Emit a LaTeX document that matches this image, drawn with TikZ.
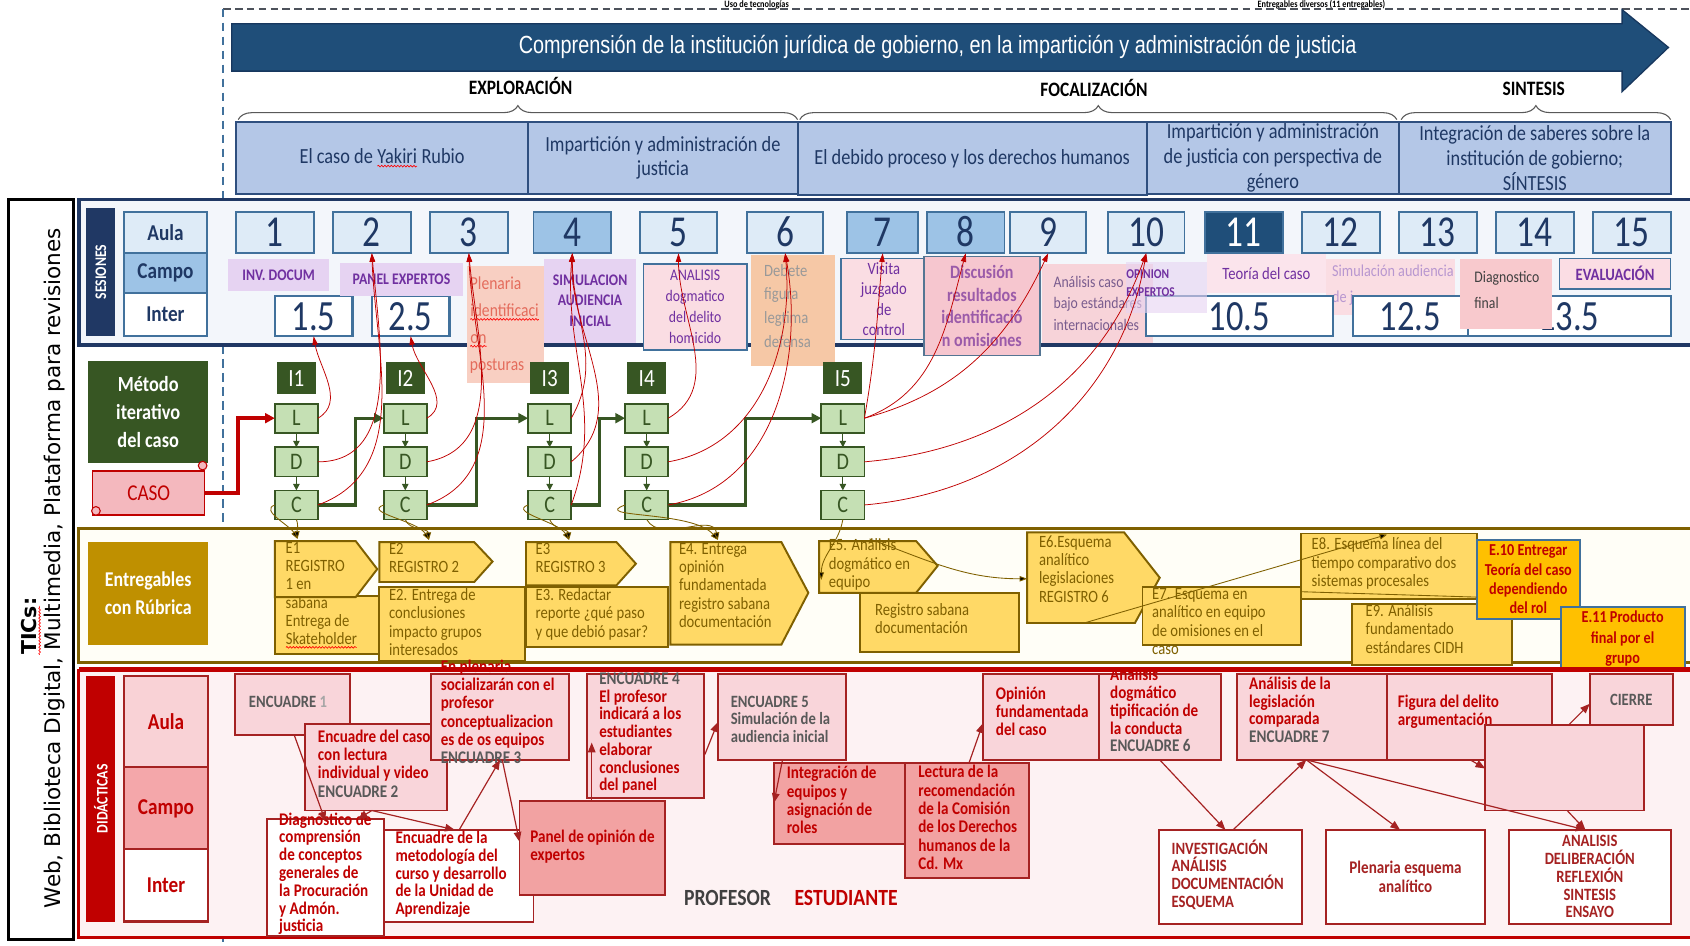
\documentclass[tikz,border=0pt]{standalone}
\usepackage{fontspec}
\setmainfont{Carlito}[FakeStretch=0.85]
\newfontfamily\bnrfont{Liberation Sans}[FakeStretch=0.8]
\newfontfamily\ticsfont{DejaVu Sans}
\newfontfamily\numfont{Carlito}[FakeStretch=0.8]
\usetikzlibrary{arrows.meta,decorations.pathreplacing,decorations.pathmorphing,calc}
\newcommand\spellw[1]{\tikz[baseline=(spw.base)]{\node[inner sep=0pt,outer sep=0pt,minimum width=0pt,minimum height=0pt,draw=none,fill=none,anchor=base,rotate=0] (spw) at (0,0) {#1};\draw[red,line width=0.6pt,decorate,decoration={snake,amplitude=0.8pt,segment length=3pt}] ([yshift=-2.5pt]spw.base west) -- ([yshift=-2.5pt]spw.base east);}}
\definecolor{navy}{HTML}{1F3864}
\definecolor{navyd}{HTML}{203864}
\definecolor{bnrblue}{HTML}{1F4E79}
\definecolor{bnrdark}{HTML}{17375E}
\definecolor{topicfill}{HTML}{B4C7E7}
\definecolor{topicbd}{HTML}{2F4F7F}
\definecolor{boxbd}{HTML}{41719C}
\definecolor{lb}{HTML}{DEEBF7}
\definecolor{mb}{HTML}{9DC3E6}
\definecolor{sesbg}{HTML}{F3F6FB}
\definecolor{purp}{HTML}{7030A0}
\definecolor{lav}{HTML}{E6D3F2}
\definecolor{peach}{HTML}{F8CFC2}
\definecolor{pinkl}{HTML}{FADDE3}
\definecolor{pinkm}{HTML}{F6C6CF}
\definecolor{orng}{HTML}{F6C8A6}
\definecolor{dgreen}{HTML}{375623}
\definecolor{lgreen}{HTML}{C5E0B4}
\definecolor{gold}{HTML}{BF9000}
\definecolor{egold}{HTML}{FFD966}
\definecolor{olive}{HTML}{7F6000}
\definecolor{eorange}{HTML}{FFC000}
\definecolor{dred}{HTML}{C00000}
\definecolor{dbord}{HTML}{A52222}
\definecolor{dpink}{HTML}{F9D5DA}
\definecolor{dpinkb}{HTML}{F2A2A2}
\definecolor{didbg}{HTML}{FDF2F3}
\definecolor{campop}{HTML}{F4A7AA}
\definecolor{aulap}{HTML}{F9D2D6}
\definecolor{tgray}{HTML}{595959}
\definecolor{plenred}{HTML}{E46C5C}
\definecolor{acpink}{HTML}{F7D3D9}
\definecolor{teopink}{HTML}{FBE4EC}
\definecolor{diapink}{HTML}{F8C9CD}
\definecolor{evapink}{HTML}{FBDDE4}
\definecolor{casopink}{HTML}{F4B8BE}
\definecolor{entbg}{HTML}{FFFEF7}
\newcommand\fsz[2]{\fontsize{#1}{#2}\selectfont}
\newcommand\mybox[7]{\node[#1,anchor=north west,minimum width={#5pt-#3pt},minimum height={#6pt-#4pt}] (#2) at (#3,#4) {#7};}
\begin{document}
\begin{tikzpicture}[x=1pt,y=-1pt,
  every node/.style={inner sep=0pt,outer sep=0pt},
  topic/.style={draw=topicbd,line width=2,fill=topicfill,text=navy,font=\fsz{20}{23},align=center},
  rowl/.style={draw=boxbd,line width=1.8,text=navy,font=\bfseries\fsz{21}{22}},
  num/.style={draw=boxbd,line width=1.8,text=navy,font=\numfont\fsz{41}{42},text height=26pt,text depth=0pt},
  inb/.style={draw=boxbd,line width=2,fill=white,text=navy,font=\numfont\fsz{40}{42},text height=26pt,text depth=0pt},
  lab/.style={text=purp,font=\bfseries\fsz{15}{19},align=center},
  txl/.style={anchor=north west,align=left},
  lbox/.style={fill=lgreen,draw=dgreen,line width=1.6,text=dgreen,font=\fsz{22}{22},minimum width=40pt,minimum height=27pt},
  ilab/.style={fill=dgreen,text=white,font=\fsz{23}{23},minimum width=36pt,minimum height=30pt},
  sa/.style={draw=dgreen,line width=1,-{Triangle[length=6pt,width=6pt]}},
  gc/.style={draw=dgreen,line width=3,-{Triangle[length=9pt,width=9pt]}},
  rc/.style={draw=dred,line width=0.7,-{Triangle[length=8pt,width=5pt]}},
  oc/.style={draw=olive,line width=0.8,-{Triangle[length=7pt,width=5pt]}},
  eshape/.style={fill=egold,draw=olive,line width=1.8},
  etx/.style={anchor=north west,align=left,text=olive,font=\fsz{16}{17}},
  dbox/.style={fill=dpink,draw=dbord,line width=1.8},
  dtx/.style={anchor=north west,align=left,text=dred,font=\bfseries\fsz{16.5}{17}},
  da/.style={draw=dbord,line width=1.1,-{Triangle[length=9pt,width=7pt]}},
  brc/.style={decorate,decoration={brace,amplitude=13pt},draw=tgray,line width=1}]
\useasboundingbox (0,0) rectangle (1568,877);
\fill[white] (0,0) rectangle (1568,877);
% ---------- top ----------
\node[anchor=north,font=\bfseries\fsz{9}{10}] (usotec) at (702,0.5) {Uso de tecnologías};
\node[anchor=north,font=\bfseries\fsz{9}{10}] (entdiv) at (1226,0.5) {Entregables diversos (11 entregables)};
\draw[draw=tgray!80!navy,line width=2,dash pattern=on 7pt off 4pt] (207,8) -- (1568,8);
\draw[draw=boxbd,line width=1.2,dash pattern=on 8pt off 5pt] (207,8) -- (207,877);
\filldraw[fill=bnrblue,draw=bnrdark,line width=1.2] (215,22) -- (1505,22) -- (1505,9) -- (1548,44) -- (1505,85) -- (1505,66) -- (215,66) -- cycle;
\node[text=white,font=\bnrfont\fsz{23}{26}] (banner) at (870,44) {Comprensión de la institución jurídica de gobierno, en la impartición y administración de justicia};
\node[font=\bfseries\fsz{19}{20}] (explo) at (483,80) {EXPLORACIÓN};
\node[font=\bfseries\fsz{19}{20}] (foca) at (1015,82) {FOCALIZACIÓN};
\node[font=\bfseries\fsz{19}{20}] (sint) at (1423,82) {SINTESIS};
\draw[brc] (221,111) -- (740,111);
\draw[brc] (742,111) -- (1296,111);
\draw[brc] (1300,111) -- (1550,111);
\mybox{topic}{t1}{219}{113}{490}{180}{}
\node[text=navy,font=\fsz{20}{23}] (t1txt) at (t1.center) {El caso de \spellw{Yakiri} Rubio};
\mybox{topic}{t2}{490}{113}{740}{180}{Impartición y administración de\\justicia}
\mybox{topic}{t3}{740}{113}{1064}{181}{El debido proceso y los derechos humanos}
\mybox{topic}{t4}{1064}{113}{1298}{180}{Impartición y administración\\de justicia con perspectiva de\\género}
\mybox{topic}{t5}{1298}{113}{1550}{180}{Integración de saberes sobre la\\institución de gobierno;\\SÍNTESIS}
% ---------- sessions ----------
\draw[line width=3.5,draw=navyd,fill=sesbg] (73,185) rectangle (1580,320);
\mybox{fill=navyd}{sesl}{80}{193}{107}{312}{}
\node[rotate=90,text=white,font=\bfseries\fsz{15}{16}] (sest) at (sesl.center) {SESIONES};
\mybox{rowl,fill=lb}{raula}{115}{197}{192}{235}{Aula}
\mybox{rowl,fill=mb}{rcampo}{115}{235}{192}{272}{Campo}
\mybox{rowl,fill=white}{rinter}{115}{272}{192}{312}{Inter}
\foreach \n/\xa/\w/\fc/\tc in {1/219/72/lb/navy,2/309/72/lb/navy,3/399/72/lb/navy,4/495/72/mb/navy,5/594/71/lb/navy,6/693/71/lb/navy,7/786/66/mb/navy,8/860/72/mb/navy,9/937/71/lb/navy,10/1028/71/lb/navy,11/1118/72/bnrblue/white,12/1208/72/lb/navy,13/1298/72/lb/navy,14/1388/72/lb/navy,15/1478/72/lb/navy}
  {\node[num,fill=\fc,text=\tc,anchor=north west,minimum width=\w pt,minimum height=38pt] (s\n) at (\xa,197) {\n};}
\mybox{inb}{i15}{255}{275}{327}{312}{1.5}
\mybox{inb}{i25}{345}{275}{417}{312}{2.5}
% campo labels
\mybox{lab,fill=lav}{invdoc}{212}{240}{305}{270}{INV. DOCUM}
\mybox{lab,fill=lav}{panelexp}{315}{244}{430}{275}{PANEL EXPERTOS}
\mybox{fill=peach}{plenbox}{433}{247}{505}{355}{}
\node[txl,text=plenred,font=\fsz{17}{25}] (plentxt) at (436,257) {Plenaria\\\spellw{identificaci}\\\spellw{on}\\posturas};
\mybox{lab,fill=lav}{simbox}{505}{240}{590}{318}{SIMULACION\\AUDIENCIA\\INICIAL}
\mybox{lab,fill=pinkl,draw=boxbd,line width=1.5,font=\fsz{15}{19.5}}{anabox}{597}{245}{693}{325}{ANALISIS\\dogmatico\\del delito\\homicido}
\mybox{fill=orng}{debbox}{697}{237}{775}{340}{}
\node[txl,text=black!40,font=\fsz{16}{22}] (debtxt) at (709,245) {Debete\\figura\\legtima\\defensa};
\mybox{lab,fill=pinkl,draw=boxbd,line width=1.5,font=\fsz{16}{19}}{visbox}{780}{240}{860}{315}{Visita\\juzgado\\de\\control}
\mybox{lab,fill=pinkm,draw=boxbd!70!gray,line width=1.5,text=purp!70!pink,font=\bfseries\fsz{17.5}{21}}{disbox}{857}{238}{965}{330}{Discusión\\resultados\\identificació\\n omisiones}
\mybox{fill=acpink,text=purp!45!gray,font=\fsz{15}{20},align=left}{acbox}{967}{245}{1070}{318}{Análisis caso\\bajo estándares\\internacionales}
\mybox{fill=pinkl}{simabox}{1230}{240}{1350}{292}{}
\node[txl,text=purp!50!white,font=\fsz{15.5}{24}] (simatxt) at (1236,246) {Simulación audiencia\\de j};
\mybox{inb}{i105}{1063}{275}{1237}{312}{10.5}
\mybox{inb}{i125}{1255}{275}{1362}{312}{12.5}
\mybox{inb}{i135}{1362}{275}{1550}{312}{}
\node[anchor=west,text=navy,font=\numfont\fsz{40}{42},text height=26pt,text depth=0pt] (i135t) at (1427,293.5) {13.5};
\mybox{fill=lav,fill opacity=0.6}{opbox}{1045}{243}{1120}{290}{}
\node[txl,text=purp,font=\bfseries\fsz{12.5}{17}] (optxt) at (1045,250) {OPINION\\EXPERTOS};
\mybox{fill=teopink,text=purp,font=\fsz{16}{18}}{teobox}{1120}{236}{1230}{272}{Teoría del caso}
\mybox{fill=diapink}{diabox}{1355}{240}{1440}{305}{}
\node[txl,text=black!75,font=\fsz{15}{24}] (diatxt) at (1368,252) {Diagnostico\\final};
\mybox{lab,fill=evapink,draw=boxbd,line width=1.5,font=\bfseries\fsz{16}{18}}{evabox}{1447}{240}{1550}{268}{EVALUACIÓN}
% ---------- method ----------
\mybox{fill=dgreen,text=white,font=\bfseries\fsz{20}{26},align=center}{metodo}{82}{335}{193}{430}{Método\\iterativo\\del caso}
\mybox{fill=casopink,draw=dred,line width=1.3,text=dred,font=\fsz{21}{22}}{caso}{86}{437}{190}{478}{CASO}
\draw[draw=dred,fill=casopink,line width=1] (89,474) circle (4);
\draw[draw=dred,fill=casopink,line width=1] (188,432) circle (4);
\foreach \k/\cx in {1/275,2/376,3/510,4/600,5/782}{
  \node[ilab] (I\k) at (\cx,351) {I\k};
  \node[lbox] (L\k) at (\cx,388) {L};
  \node[lbox] (D\k) at (\cx,428.5) {D};
  \node[lbox] (C\k) at (\cx,468.5) {C};
  \draw[sa] (L\k.south) -- (D\k.north);
  \draw[sa] (D\k.south) -- (C\k.north);
}
\draw[draw=dred,line width=3.5,-{Triangle[length=9pt,width=9pt]}] (caso.east) -- ++(31,0) |- (L1.west);
\draw[gc] (C1.east) -- ++(35,0) |- (L2.west);
\draw[gc] (C2.east) -- ++(46,0) |- (L3.west);
\draw[gc] (C3.east) -- ++(26,0) |- (L4.west);
\draw[gc] (C4.east) -- ++(72,0) |- (L5.west);
% red curves to sessions
\draw[rc] (L1.east) to[out=30,in=-80] (i15.south);
\draw[rc] (D1.east) to[out=0,in=-85] (s2.south);
\draw[rc] (C1.east) to[out=20,in=-88] (s2.south);
\draw[rc] (L2.east) to[out=30,in=-80] (i25.south);
\draw[rc] (D2.east) to[out=10,in=-85] (s3.south);
\draw[rc] (C2.east) to[out=20,in=-88] (s3.south);
\draw[rc] (L3.east) to[out=60,in=-90] (s4.south);
\draw[rc] (D3.east) to[out=40,in=-92] (s4.south);
\draw[rc] (C3.east) to[out=70,in=-95] (s4.south);
\draw[rc] (L4.east) to[out=30,in=-90] (s5.south);
\draw[rc] (D4.east) to[out=10,in=-85] (s6.south);
\draw[rc] (C4.east) to[out=10,in=-80] (s6.south);
\draw[rc] (L5.east) to[out=80,in=-95] (s7.south);
\draw[rc] (L5.east) to[out=20,in=-105] (s8.south);
\draw[rc] (L5.east) to[out=15,in=-115] (s9.south);
\draw[rc] (D5.east) to[out=5,in=-110] (s10.south);
\draw[rc] (C5.east) to[out=5,in=-100] (s10.south);
% ---------- entregables ----------
\draw[line width=3,draw=olive,fill=entbg] (73,490) rectangle (1580,615);
\mybox{fill=gold,text=white,font=\bfseries\fsz{19.5}{26},align=center}{entlab}{82}{503}{193}{598}{Entregables\\con Rúbrica}
\mybox{eshape}{e1b}{255}{553}{352}{607}{}
\filldraw[eshape] (255,502) -- (330,502) -- (350,528) -- (330,554) -- (255,554) -- cycle;
\node[etx] (e1t) at (265,503) {E1\\REGISTRO\\1 en\\sabana};
\node[etx] (e1bt) at (265,570) {Entrega de\\\spellw{Skateholder}};
\filldraw[eshape] (352,503) -- (440,503) -- (457,521) -- (440,540) -- (352,540) -- cycle;
\node[etx] (e2t) at (361,504) {E2\\REGISTRO 2};
\mybox{eshape}{e2b}{352}{545}{487}{613}{}
\node[etx] (e2bt) at (361,546) {E2. Entrega de\\conclusiones\\impacto grupos\\interesados};
\filldraw[eshape] (488,503) -- (572,503) -- (590,523) -- (572,543) -- (488,543) -- cycle;
\node[etx] (e3t) at (497,504) {E3\\REGISTRO 3};
\mybox{eshape}{e3b}{488}{545}{620}{600}{}
\node[etx] (e3bt) at (497,546) {E3. Redactar\\reporte ¿qué paso\\y que debió pasar?};
\filldraw[eshape] (622,503) -- (725,503) -- (750,550) -- (725,598) -- (622,598) -- cycle;
\node[etx] (e4t) at (630,504) {E4. Entrega\\opinión\\fundamentada\\registro sabana\\documentación};
\mybox{eshape}{e5b}{798}{550}{945}{605}{}
\node[etx] (e5bt) at (812,560) {Registro sabana\\documentación};
\filldraw[eshape] (760,502) -- (850,502) -- (870,525) -- (850,550) -- (760,550) -- cycle;
\node[etx] (e5t) at (769,500) {E5. Análisis\\dogmático en\\equipo};
\filldraw[eshape] (953,494) -- (1043,494) -- (1076,536) -- (1053,578) -- (953,578) -- cycle;
\node[etx] (e6t) at (964,497) {E6.Esquema\\analítico\\legislaciones\\REGISTRO 6};
\mybox{eshape}{e7b}{1060}{545}{1207}{598}{}
\node[etx] (e7t) at (1069,546) {E7. Esquema  en\\analítico en equipo\\de omisiones en el\\caso};
\mybox{eshape}{e8b}{1207}{495}{1370}{556}{}
\node[etx] (e8t) at (1217,499) {E8. Esquema línea del\\tiempo comparativo dos\\sistemas procesales};
\mybox{eshape}{e9b}{1254}{560}{1403}{617}{}
\node[etx] (e9t) at (1267,561) {E9. Análisis\\fundamentado\\estándares CIDH};
\mybox{fill=eorange,draw=boxbd,line width=2,text=dred,font=\bfseries\fsz{15.5}{18},align=center}{e10}{1370}{501}{1466}{574}{E.10 Entregar\\Teoría del caso\\dependiendo\\del rol}
\mybox{fill=eorange,draw=boxbd,line width=2,text=dred,font=\bfseries\fsz{15.5}{19},align=center}{e11}{1448}{563}{1563}{622}{E.11 Producto\\final por el\\grupo}
\coordinate (e1top) at (276,500);
\coordinate (e2top) at (398,501);
\coordinate (e3top) at (528,501);
\coordinate (e4top) at (666,501);
\coordinate (e5top) at (762,538);
\coordinate (e6in) at (953,537);
\coordinate (e6bot) at (1006,578);
\coordinate (e8in) at (1287,496);
\coordinate (e8out) at (1207,549);
\coordinate (e10in) at (1370,554);
\draw[oc] (C1.west) to[out=200,in=120] (e1top);
\draw[oc] (C1.south) to[out=-70,in=95] (e1top);
\draw[oc] (C2.west) to[out=200,in=120] (e2top);
\draw[oc] (C2.south) to[out=-70,in=95] (e2top);
\draw[oc] (C3.west) to[out=200,in=120] (e3top);
\draw[oc] (C3.south) to[out=-70,in=95] (e3top);
\draw[oc] (C4.west) to[out=200,in=130] (e4top);
\draw[oc] (C4.south) to[out=-60,in=100] (e4top);
\draw[oc] (C5.south) to[out=-100,in=90] (e5top);
\draw[oc] (e5t.north) to[out=-20,in=180] (e6in);
\draw[oc] (e6bot) -- (e8in);
\draw[draw=olive,line width=0.8] (e8out) -- (e10in);
% ---------- didacticas ----------
\draw[line width=3,draw=dred,fill=didbg] (73,622) rectangle (1580,870);
\mybox{fill=dred}{didl}{80}{627}{107}{855}{}
\node[rotate=90,text=white,font=\bfseries\fsz{15}{16}] (didt) at (didl.center) {DIDÁCTICAS};
\mybox{fill=aulap,draw=dbord,line width=2,text=dred,font=\bfseries\fsz{21}{22}}{daula}{115}{627}{193}{712}{Aula}
\mybox{fill=campop,draw=dbord,line width=2,text=dred,font=\bfseries\fsz{21}{22}}{dcampo}{115}{712}{193}{788}{Campo}
\mybox{fill=white,draw=dbord,line width=2,text=dred,font=\bfseries\fsz{21}{22}}{dinter}{115}{788}{193}{855}{Inter}
\mybox{dbox}{enc1}{218}{625}{325}{682}{}
\node[anchor=west,text=tgray,font=\bfseries\fsz{16}{17}] (enc1t) at (231,651) {ENCUADRE {\color{black!35}1}};
\mybox{dbox}{enc2}{283}{672}{415}{752}{}
\node[dtx] (enc2t) at (295,677) {Encuadre del caso\\con lectura\\individual y video\\{\color{tgray}ENCUADRE 2}};
\mybox{dbox}{enc3}{400}{625}{528}{705}{}
\node[dtx] (enc3t) at (409,612) {En plenaria\\socializarán con el\\profesor\\conceptualizacion\\es de os equipos\\{\color{tgray}ENCUADRE 3}};
\mybox{dbox}{enc4}{545}{625}{653}{740}{}
\node[dtx,font=\bfseries\fsz{16.5}{16.5}] (enc4t) at (556,624) {{\color{tgray}ENCUADRE 4}\\El profesor\\indicará a los\\estudiantes\\elaborar\\conclusiones\\del panel};
\mybox{dbox}{enc5}{666}{625}{785}{705}{}
\node[dtx,text=tgray,font=\bfseries\fsz{16}{16}] (enc5t) at (678,646) {ENCUADRE 5\\Simulación de la\\audiencia inicial};
\mybox{dbox,fill=dpinkb}{integ}{718}{708}{840}{783}{}
\node[dtx] (integt) at (730,711) {Integración de\\equipos y\\asignación de\\roles};
\mybox{dbox,fill=dpinkb}{lectura}{840}{708}{955}{815}{}
\node[dtx] (lecturat) at (852,710) {Lectura de la\\recomendación\\de la Comisión\\de los Derechos\\humanos de la\\Cd. Mx};
\mybox{dbox}{opinion}{912}{625}{1020}{705}{}
\node[dtx] (opiniont) at (924,637) {Opinión\\fundamentada\\del caso};
\mybox{dbox}{enc6}{1020}{625}{1133}{705}{}
\node[dtx,font=\bfseries\fsz{16.5}{16.5}] (enc6t) at (1030,620) {Análisis\\dogmático\\tipificación de\\la conducta\\{\color{tgray}ENCUADRE 6}};
\mybox{dbox}{legis}{1148}{625}{1287}{705}{}
\node[dtx,font=\bfseries\fsz{16.5}{16.5}] (legist) at (1159,628) {Análisis de la\\legislación\\comparada\\{\color{tgray}ENCUADRE 7}};
\mybox{dbox}{figura}{1287}{625}{1440}{705}{}
\node[dtx] (figurat) at (1297,645) {Figura del delito\\argumentación};
\mybox{dbox,text=tgray,font=\bfseries\fsz{16}{17}}{cierre}{1475}{625}{1552}{673}{CIERRE}
\mybox{dbox}{blank}{1378}{673}{1525}{752}{}
\mybox{dbox,fill=white}{diag}{248}{760}{356}{868}{}
\node[dtx,font=\bfseries\fsz{16.5}{16.5}] (diagt) at (259,754) {Diagnóstico de\\comprensión\\de conceptos\\generales de\\la Procuración\\y Admón.\\justicia};
\mybox{dbox,fill=white}{metod}{356}{770}{495}{855}{}
\node[dtx,font=\bfseries\fsz{16.5}{16.5}] (metodt) at (367,771) {Encuadre de la\\metodología del\\curso y desarrollo\\de la Unidad de\\Aprendizaje};
\mybox{dbox,fill=dpinkb}{panel}{482}{743}{617}{830}{}
\node[dtx] (panelt) at (492,770) {Panel de opinión de\\expertos};
\node[text=black!75,font=\bfseries\fsz{21.5}{22}] (prof) at (675,833) {PROFESOR};
\node[text=dred,font=\bfseries\fsz{21.5}{22}] (estu) at (785,833) {ESTUDIANTE};
\mybox{dbox,fill=white}{invest}{1075}{770}{1208}{857}{}
\node[dtx,text=dbord,font=\bfseries\fsz{16}{16.5}] (investt) at (1087,779) {INVESTIGACIÓN\\ANÁLISIS\\DOCUMENTACIÓN\\ESQUEMA};
\mybox{dbox,fill=white,text=dbord,font=\bfseries\fsz{16.5}{17},align=center}{plenaria}{1230}{770}{1378}{857}{Plenaria esquema\\analítico}
\mybox{dbox,fill=white,text=dbord,font=\bfseries\fsz{16}{16.5},align=center}{analisis}{1400}{770}{1550}{857}{ANALISIS\\DELIBERACIÓN\\REFLEXIÓN\\SINTESIS\\ENSAYO}
\draw[da] ($(enc1.south west)+(55,0)$) -- ($(diag.north west)+(54,2)$);
\draw[da] ($(enc2.south west)+(62,0)$) -- ($(diag.north west)+(84,0)$);
\draw[da] ($(enc2.south west)+(62,0)$) -- ($(metod.north west)+(66,0)$);
\draw[da] ($(metod.north west)+(70,0)$) -- ($(enc3.south west)+(64,0)$);
\draw[da] ($(enc3.south west)+(66,0)$) -- ($(panel.north west)+(0,38)$);
\draw[da] ($(panel.north west)+(67,0)$) -- ($(enc4.north west)+(4,64)$);
\draw[da] ($(enc4.south east)+(1,-40)$) -- ($(enc5.south west)+(0,-35)$);
\draw[da] ($(enc5.south west)+(60,0)$) -- ($(integ.north west)+(0,37)$);
\draw[da] ($(lectura.north west)+(59,0)$) -- ($(opinion.north west)+(0,46)$);
\draw[da] ($(enc6.south west)+(56,0)$) -- ($(invest.north west)+(62,0)$);
\draw[da] ($(invest.north west)+(69,0)$) -- ($(legis.south west)+(64,0)$);
\draw[da] ($(legis.south west)+(64,0)$) -- ($(plenaria.north west)+(69,0)$);
\draw[da] ($(legis.south west)+(64,0)$) -- ($(analisis.north west)+(71,0)$);
\draw[da] ($(figura.south west)+(77,0)$) -- ($(blank.north west)+(0,40)$);
\draw[da] ($(blank.north west)+(77,0)$) -- ($(cierre.south west)+(0,-20)$);
\draw[da] ($(blank.south west)+(76,0)$) -- ($(analisis.north west)+(71,0)$);
\draw[line width=5,draw=dred] (73,621) -- (1580,621);
% ---------- TICs ----------
\draw[line width=3] (8,185) rectangle (68,872);
\node[rotate=90,font=\ticsfont\bfseries\fsz{19}{22}] (ticsh) at (29,581) {\spellw{TICs}:};
\node[rotate=90,font=\ticsfont\fsz{20}{22}] (ticsb) at (51,527) {Web, Biblioteca Digital, Multimedia, Plataforma para revisiones};
\end{tikzpicture}
\end{document}
